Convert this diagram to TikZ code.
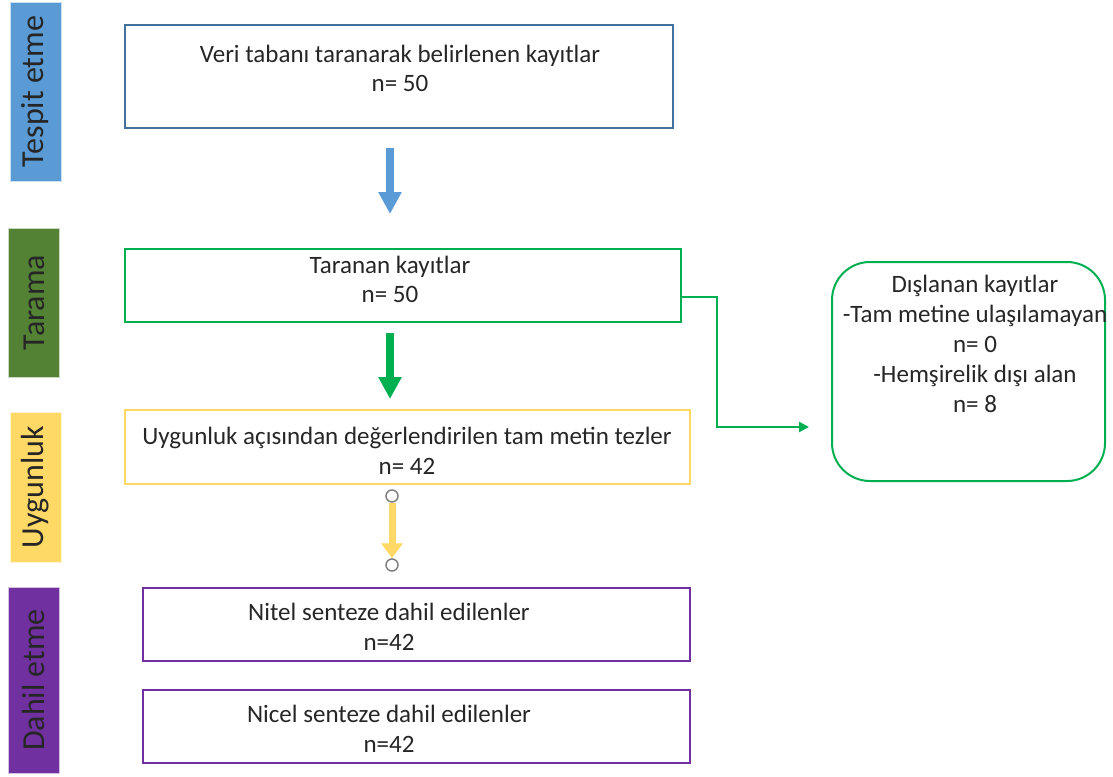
\documentclass[tikz,border=0pt]{standalone}
\usepackage{fontspec}
\setmainfont{Carlito}
\usetikzlibrary{calc, arrows.meta}

\definecolor{tespitblue}{HTML}{5B9BD5}
\definecolor{tespitedge}{HTML}{41719C}
\definecolor{taramagreen}{HTML}{548235}
\definecolor{okgreen}{HTML}{00B050}
\definecolor{uygunyellow}{HTML}{FFD966}
\definecolor{dahilpurple}{HTML}{7030A0}
\definecolor{inktext}{HTML}{262626}

\tikzset{
  phase/.style = {rotate = 90, inner sep = 0, minimum height = 51,
    draw = white!70!#1, line width = 0.8, fill = #1, text = inktext,
    font = \fontsize{32}{32}\selectfont},
  stagebox/.style = {draw = #1, line width = 2, inner sep = 0},
  lbl/.style = {align = center, anchor = base, text = inktext,
    font = \fontsize{25}{29.5}\selectfont},
  blockarrow/.style = {draw = #1, line width = 8,
    -{Triangle[length = 22, width = 22]}},
}

\begin{document}
\begin{tikzpicture}[x = 1pt, y = -1pt]
\useasboundingbox (0, 0) rectangle (1113, 776);

\node[phase = tespitblue, minimum width = 179] (p-tespit) at (35.5, 91.5) {Tespit etme};
\node[phase = taramagreen, minimum width = 149] (p-tarama) at (34, 302.5) {Tarama};
\node[phase = uygunyellow, minimum width = 150] (p-uygun) at (35.5, 487) {Uygunluk};
\node[phase = dahilpurple, minimum width = 186] (p-dahil) at (34, 680) {Dahil etme};

\node[stagebox = tespitedge, minimum width = 548, minimum height = 103] (rec) at (399, 76.5) {};
\node[lbl] (rec-t) at ($(rec.center) + (1, 15.5)$) {Veri tabanı taranarak belirlenen kayıtlar\\n= 50};

\node[stagebox = okgreen, minimum width = 556, minimum height = 73] (scr) at (403, 285.5) {};
\node[lbl] (scr-t) at ($(scr.center) + (-13, 17)$) {Taranan kayıtlar\\n= 50};

\node[stagebox = uygunyellow, minimum width = 565, minimum height = 74] (elig) at (407.5, 447) {};
\node[lbl] (elig-t) at ($(elig.center) + (-0.5, 27)$) {Uygunluk açısından değerlendirilen tam metin tezler\\n= 42};

\node[stagebox = dahilpurple, minimum width = 547, minimum height = 73] (qual) at (416.5, 624.5) {};
\node[lbl] (qual-t) at ($(qual.center) + (-27.5, 25.5)$) {Nitel senteze dahil edilenler\\n=42};

\node[stagebox = dahilpurple, minimum width = 547, minimum height = 73] (quan) at (416.5, 726.5) {};
\node[lbl] (quan-t) at ($(quan.center) + (-27.5, 25.5)$) {Nicel senteze dahil edilenler\\n=42};

\node[stagebox = okgreen, rounded corners = 38, minimum width = 273, minimum height = 219] (exc) at (968.5, 371.5) {};
\node[lbl, font = \fontsize{25}{30}\selectfont] (exc-t) at ($(exc.north) + (6.5, 151)$) {Dışlanan kayıtlar\\-Tam metine ulaşılamayan\\n= 0\\-Hemşirelik dışı alan\\n= 8};

% arrows between stages
\draw[blockarrow = tespitblue] ($(rec.south) + (-9, 19)$) -- ($(scr.north) + (-13, -34)$);
\draw[blockarrow = okgreen] ($(scr.south) + (-13, 10)$) -- ($(elig.north) + (-17.5, -10)$);

\node[circle, draw = gray, fill = white, line width = 1.5, minimum size = 12, inner sep = 0] (h-top) at ($(elig.south) + (-15.5, 11)$) {};
\node[circle, draw = gray, fill = white, line width = 1.5, minimum size = 12, inner sep = 0] (h-bot) at ($(elig.south) + (-15.5, 80)$) {};
\draw[draw = uygunyellow, line width = 7, -{Triangle[length = 15, width = 21]}] (h-top.south) -- (h-bot.north);

\coordinate (exc-in) at ($(exc.west) + (-22, 55.5)$);
\draw[okgreen, line width = 2.5, -{Triangle[length = 10, width = 10]}] ($(scr.east) + (0, 11.5)$) -- ++(35, 0) |- (exc-in);
\end{tikzpicture}
\end{document}
